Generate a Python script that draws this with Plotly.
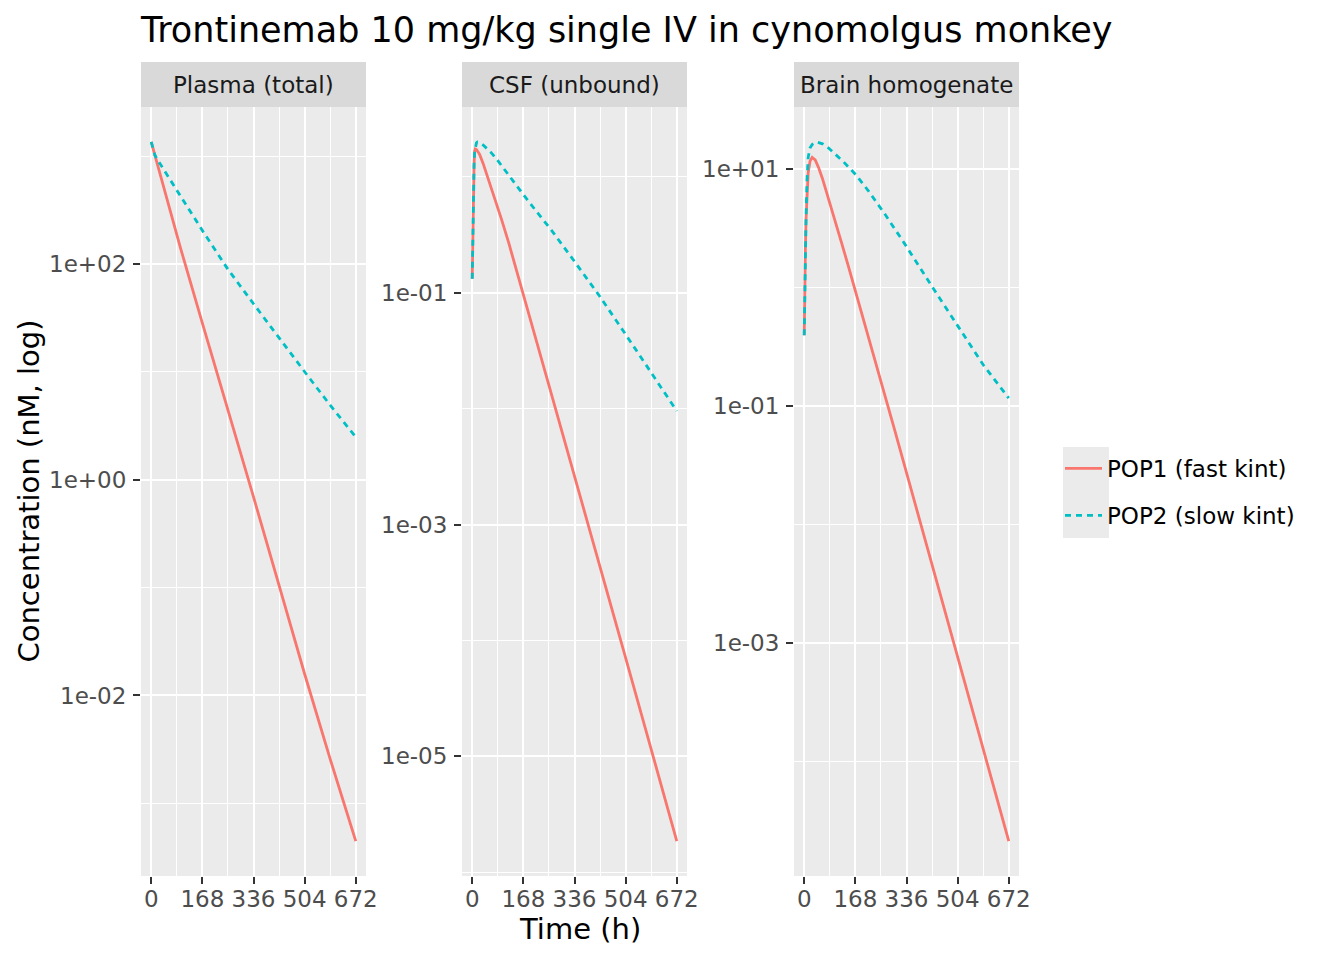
import math
import plotly.graph_objects as go

# ---------------- data ----------------
panels = ["Plasma (total)", "CSF (unbound)", "Brain homogenate"]
series_names = ["POP1 (fast kint)", "POP2 (slow kint)"]
series_colors = ["#F8766D", "#00BFC4"]
series_dash = ["solid", "6px,5px"]

# Plasma (total), nM
plasma_pop1_t = [0, 24, 48, 96, 168, 252, 336, 420, 504, 588, 672]
plasma_pop1_c = [1350, 759, 427, 141, 28.2, 4.47, 0.692, 0.105, 0.0158, 0.00257, 0.000447]
plasma_pop2_t = [0, 12, 24, 48, 96, 168, 252, 336, 420, 504, 588, 672]
plasma_pop2_c = [1350, 1020, 891, 692, 427, 204, 89.1, 42.7, 20.4, 10.0, 4.90, 2.48]

# CSF (unbound), nM
csf_pop1_t = [0, 1, 2, 3, 4, 6, 8, 10, 14, 24, 36, 48, 60, 72, 84, 96, 120, 144, 168, 200, 250,
              296, 336, 420, 504, 588, 672]
csf_pop1_c = [0.132, 0.240, 0.355, 0.501, 0.759, 1.26, 1.66, 1.74, 1.72, 1.57, 1.30, 1.05, 0.851,
              0.684, 0.545, 0.432, 0.269, 0.162, 0.0977, 0.0490, 0.0166, 0.00617, 0.00263,
              0.000427, 7.08e-5, 1.15e-5, 1.86e-6]
csf_pop2_t = [0, 1, 2, 3, 4, 6, 8, 10, 14, 17, 24, 36, 48, 60, 77, 99, 120, 143, 170, 210, 263,
              336, 416, 504, 588, 672]
csf_pop2_c = [0.132, 0.240, 0.355, 0.513, 0.759, 1.26, 1.66, 1.82, 1.97, 2.00, 1.98, 1.88, 1.76,
              1.64, 1.46, 1.22, 1.02, 0.851, 0.692, 0.507, 0.339, 0.186, 0.0955, 0.0437, 0.0204,
              0.00955]

# Brain homogenate, nM
brain_pop1_t = [0, 1, 2, 4, 6, 9, 13, 19, 26, 36, 48, 60, 78, 100, 122, 144, 171, 200, 231, 264,
                297, 336, 420, 504, 588, 672]
brain_pop1_c = [0.398, 0.759, 1.20, 2.29, 3.80, 6.31, 9.33, 11.7, 12.6, 12.0, 10.2, 8.32, 5.89,
                3.80, 2.43, 1.55, 0.891, 0.490, 0.254, 0.126, 0.0631, 0.0275, 0.00459, 0.000767,
                0.000128, 2.14e-5]
brain_pop2_t = [0, 1, 2, 4, 6, 9, 13, 19, 26, 40, 60, 80, 100, 130, 171, 210, 264, 329, 417, 515,
                588, 672]
brain_pop2_c = [0.398, 0.759, 1.20, 2.34, 3.98, 7.94, 12.6, 15.1, 16.2, 17.0, 16.4, 15.1, 13.6,
                11.5, 8.91, 6.61, 4.22, 2.37, 1.05, 0.427, 0.224, 0.117]

x_ticks = [0, 168, 336, 504, 672]
x_ticktext = ["0", "168", "336", "504", "672"]
x_minor = [84, 252, 420, 588]

y_ticks = [[1e2, 1e0, 1e-2], [1e-1, 1e-3, 1e-5], [1e1, 1e-1, 1e-3]]
y_ticktext = [["1e+02", "1e+00", "1e-02"], ["1e-01", "1e-03", "1e-05"], ["1e+01", "1e-01", "1e-03"]]
y_minor = [[1e3, 1e1, 1e-1, 1e-3], [1e0, 1e-2, 1e-4, 1e-6], [1e0, 1e-2, 1e-4]]

title_text = "Trontinemab 10 mg/kg single IV in cynomolgus monkey"
x_title = "Time (h)"
y_title = "Concentration (nM, log)"

data = [
    [(plasma_pop1_t, plasma_pop1_c), (plasma_pop2_t, plasma_pop2_c)],
    [(csf_pop1_t, csf_pop1_c), (csf_pop2_t, csf_pop2_c)],
    [(brain_pop1_t, brain_pop1_c), (brain_pop2_t, brain_pop2_c)],
]

# ---------------- layout geometry ----------------
W, H = 1344, 960
FONT = "DejaVu Sans"
panel_x = [(141, 366), (462, 687), (794, 1019)]
plot_top, plot_bot = 107, 876
strip_top = 62

def px(x):
    return x / W

def py(y):
    return 1 - y / H

fig = go.Figure()

for i, (pname, series) in enumerate(zip(panels, data)):
    ax = "" if i == 0 else str(i + 1)
    for j, (t, c) in enumerate(series):
        fig.add_trace(go.Scatter(
            x=t, y=c, mode="lines",
            name=series_names[j],
            legendgroup=f"g{j}",
            showlegend=(i == 0),
            line=dict(color=series_colors[j], width=2.8, dash=series_dash[j]),
            xaxis="x" + ax, yaxis="y" + ax,
            hoverinfo="x+y+name",
        ))

    # y range like ggplot (5% expansion in log space)
    logs = [math.log10(v) for (_, c) in series for v in c]
    lo, hi = min(logs), max(logs)
    pad = 0.05 * (hi - lo)
    tmin, tmax = 0, 672
    xpad = 0.05 * (tmax - tmin)

    fig.layout["xaxis" + ax] = dict(
        domain=[px(panel_x[i][0]), px(panel_x[i][1])],
        anchor="y" + ax,
        range=[tmin - xpad, tmax + xpad],
        tickmode="array", tickvals=x_ticks, ticktext=x_ticktext,
        ticks="outside", ticklen=7, tickwidth=2, tickcolor="#333333",
        tickfont=dict(family=FONT, size=23, color="#4D4D4D"),
        ticklabelstandoff=-5,
        showgrid=True, gridcolor="white", gridwidth=2.2,
        minor=dict(tickmode="array", tickvals=x_minor, showgrid=True,
                   gridcolor="white", gridwidth=1.1, ticks=""),
        zeroline=False, showline=False,
    )
    fig.layout["yaxis" + ax] = dict(
        domain=[py(plot_bot), py(plot_top)],
        anchor="x" + ax,
        type="log",
        range=[lo - pad, hi + pad],
        tickmode="array", tickvals=y_ticks[i], ticktext=y_ticktext[i],
        ticks="outside", ticklen=7, tickwidth=2, tickcolor="#333333",
        tickfont=dict(family=FONT, size=23, color="#4D4D4D"),
        ticklabelstandoff=2,
        showgrid=True, gridcolor="white", gridwidth=2.2,
        minor=dict(tickmode="array", tickvals=y_minor[i], showgrid=True,
                   gridcolor="white", gridwidth=1.1, ticks=""),
        zeroline=False, showline=False,
    )

    # facet strip
    fig.add_shape(type="rect", xref="paper", yref="paper",
                  x0=px(panel_x[i][0]), x1=px(panel_x[i][1]),
                  y0=py(plot_top), y1=py(strip_top),
                  fillcolor="#D9D9D9", line=dict(width=0), layer="below")
    fig.add_annotation(text=pname, xref="paper", yref="paper",
                       x=px((panel_x[i][0] + panel_x[i][1]) / 2),
                       y=py((plot_top + strip_top) / 2),
                       xanchor="center", yanchor="middle", showarrow=False,
                       font=dict(family=FONT, size=23, color="#1A1A1A"))

# legend key background
fig.add_shape(type="rect", xref="paper", yref="paper",
              x0=px(1063), x1=px(1109), y0=py(538), y1=py(447),
              fillcolor="#EBEBEB", line=dict(width=0), layer="below")

# axis titles
fig.add_annotation(text=x_title, xref="paper", yref="paper",
                   x=px((141 + 1019) / 2), y=py(929),
                   xanchor="center", yanchor="middle", showarrow=False,
                   font=dict(family=FONT, size=29, color="black"))
fig.add_annotation(text=y_title, xref="paper", yref="paper",
                   x=px(28), y=py((plot_top + plot_bot) / 2), textangle=-90,
                   xanchor="center", yanchor="middle", showarrow=False,
                   font=dict(family=FONT, size=29, color="black"))

fig.update_layout(
    width=W, height=H, autosize=False,
    margin=dict(l=0, r=0, t=0, b=0, autoexpand=False),
    paper_bgcolor="white", plot_bgcolor="#EBEBEB",
    font=dict(family=FONT, color="black"),
    title=dict(text=title_text, x=px(141), xanchor="left", xref="paper",
               y=py(30), yanchor="middle", yref="paper",
               font=dict(family=FONT, size=35, color="black")),
    legend=dict(x=px(1060), y=py(447), xanchor="left", yanchor="top",
                bgcolor="rgba(0,0,0,0)", font=dict(family=FONT, size=23, color="black"),
                tracegroupgap=14, itemwidth=37, traceorder="grouped"),
    showlegend=True,
)

fig.write_html("out.html", config={"displayModeBar": False, "responsive": False})
